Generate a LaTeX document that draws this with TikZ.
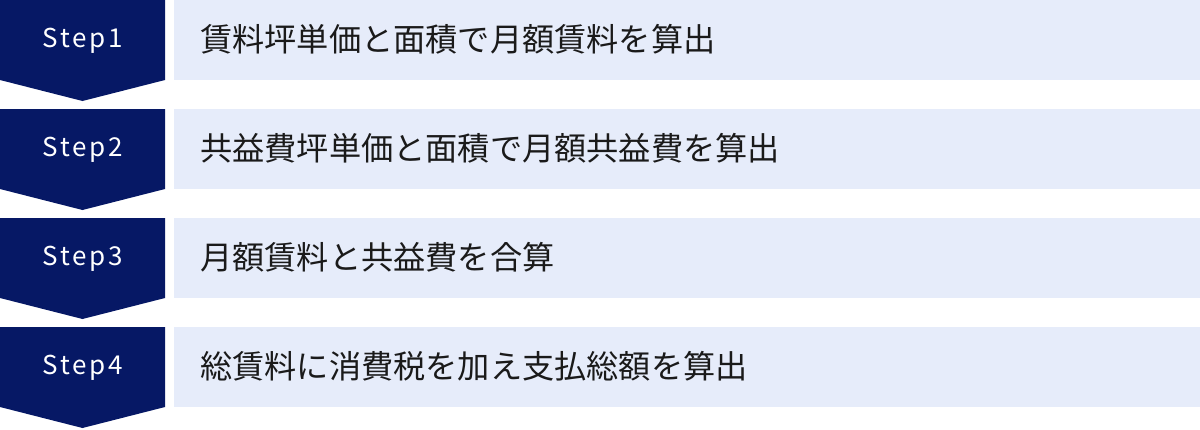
\documentclass[tikz,border=0pt]{standalone}
\usepackage{fontspec}
\setmainfont{Noto Sans CJK JP}
\newfontfamily\stepfont[LetterSpace=11]{Noto Sans CJK JP}
\definecolor{navy}{HTML}{061865}
\definecolor{lightbg}{HTML}{E6ECFA}
\definecolor{txt}{HTML}{1A1A1A}
\begin{document}
\begin{tikzpicture}[x=1pt,y=-1pt,
  stepshape/.style={fill=navy},
  labelbox/.style={fill=lightbg},
  steplabel/.style={text=white,font=\stepfont\fontsize{26}{30}\selectfont,inner sep=0pt,anchor=center},
  desc/.style={text=txt,font=\fontsize{32.2}{36}\selectfont,inner sep=0pt,anchor=west}]
\useasboundingbox (0,0) rectangle (1200,429);
\foreach \i/\y/\t in {1/0/賃料坪単価と面積で月額賃料を算出,
                      2/109/共益費坪単価と面積で月額共益費を算出,
                      3/218/月額賃料と共益費を合算,
                      4/327/総賃料に消費税を加え支払総額を算出}{
  \fill[stepshape] (0,\y) -- (165,\y) -- (165,\y+80) -- (82.5,\y+101) -- (0,\y+80) -- cycle;
  \fill[labelbox] (174,\y) rectangle (1200,\y+80);
  \node[steplabel] (s\i) at (83,\y+41) {Step\i};
  \node[desc] (d\i) at (200,\y+39.5) {\t};
}
\end{tikzpicture}
\end{document}
